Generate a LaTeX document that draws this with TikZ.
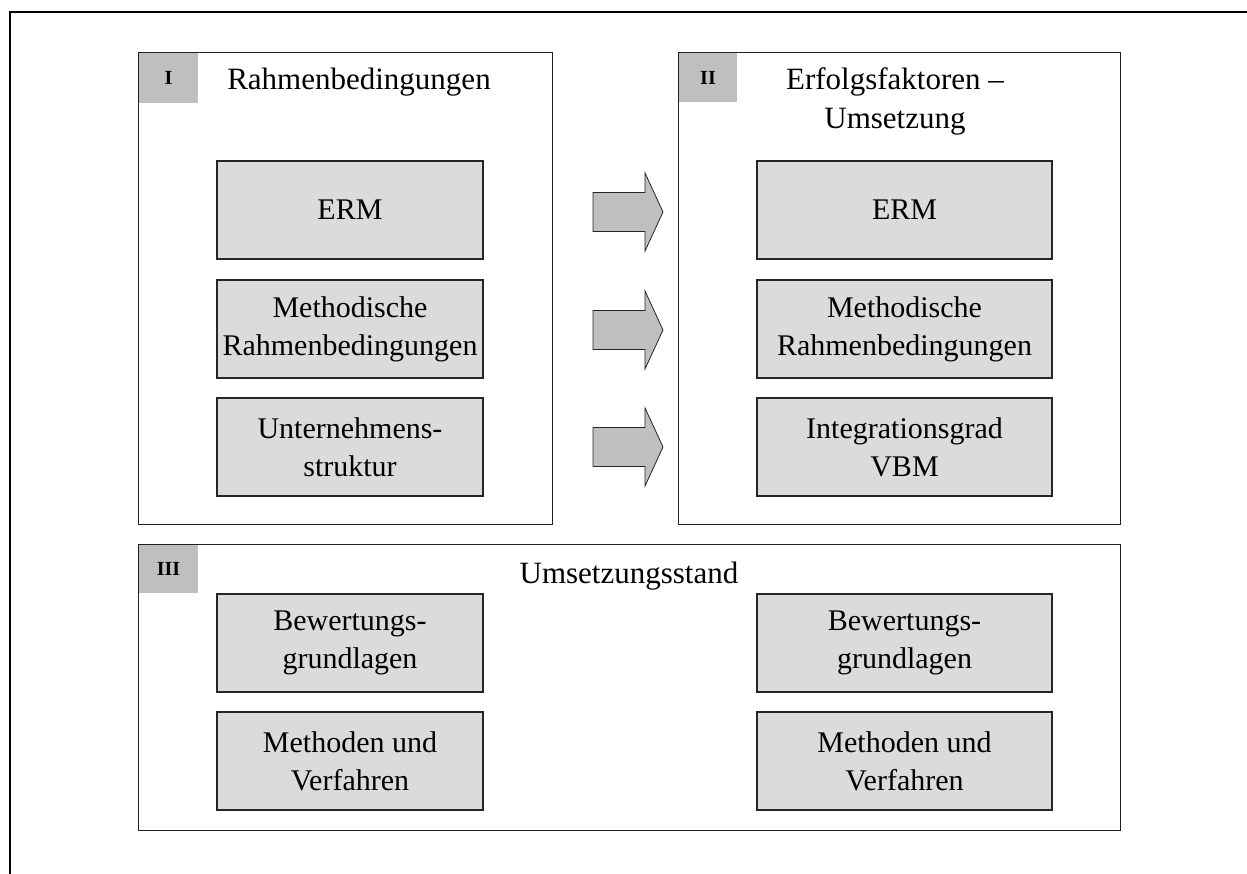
\documentclass[tikz,border=0pt]{standalone}
\usepackage{fontspec}
\setmainfont{Liberation Serif}
\begin{document}
\begin{tikzpicture}[x=1pt,y=-1pt,
  panel/.style={draw=black!88,line width=0.9pt},
  tag/.style={fill=black!25,draw=none},
  tagtext/.style={font=\fontsize{20}{22}\selectfont\bfseries},
  item/.style={draw=black!85,line width=1.2pt,fill=black!14,align=center,
    inner sep=0pt,font=\fontsize{30}{38}\selectfont},
  heading/.style={align=center,font=\fontsize{31}{39}\selectfont,anchor=base},
  blockarrow/.pic={
    \draw[draw=black!85,line width=0.8pt,fill=black!25,line join=miter]
      (-35,-19.5) -- (17,-19.5) -- (17,-39) -- (35,0) -- (17,39) -- (17,19.5)
      -- (-35,19.5) -- cycle;
  }]
\useasboundingbox (0,0) rectangle (1247,874);

% outer frame (left and top edges)
\draw[line width=1.3pt] (10,874) -- (10,12) -- (1247,12);

% section panels
\draw[panel] (138,52) rectangle (552,524);
\draw[panel] (678,52) rectangle (1120,524);
\draw[panel] (138,544) rectangle (1120,830);

% numbered tags
\fill[tag] (139,53) rectangle (198,103);
\node[tagtext] (tagI) at (168.5,78) {I};
\fill[tag] (679,53) rectangle (737,102);
\node[tagtext] (tagII) at (708,77.5) {II};
\fill[tag] (139,545) rectangle (198,593);
\node[tagtext] (tagIII) at (168.5,569) {III};

% headings
\node[heading] (hI) at (359,90) {Rahmenbedingungen};
\node[heading] (hII) at (895,129) {Erfolgsfaktoren –\\Umsetzung};
\node[heading] (hIII) at (629,583) {Umsetzungsstand};

% section I items
\node[item,minimum width=266pt,minimum height=98pt] (ermL) at (350,210) {ERM};
\node[item,minimum width=266pt,minimum height=98pt] (methL) at (350,329) {Methodische\\Rahmenbedingungen};
\node[item,minimum width=266pt,minimum height=98pt] (untL) at (350,447) {Unternehmens-\\struktur};

% section II items
\node[item,minimum width=295pt,minimum height=98pt] (ermR) at (904.5,210) {ERM};
\node[item,minimum width=295pt,minimum height=98pt] (methR) at (904.5,329) {Methodische\\Rahmenbedingungen};
\node[item,minimum width=295pt,minimum height=98pt] (intR) at (904.5,447) {Integrationsgrad\\VBM};

% section III items
\node[item,minimum width=266pt,minimum height=98pt] (bewL) at (350,643) {Bewertungs-\\grundlagen};
\node[item,minimum width=266pt,minimum height=98pt] (mvL) at (350,761) {Methoden und\\Verfahren};
\node[item,minimum width=295pt,minimum height=98pt] (bewR) at (904.5,643) {Bewertungs-\\grundlagen};
\node[item,minimum width=295pt,minimum height=98pt] (mvR) at (904.5,761) {Methoden und\\Verfahren};

% block arrows between the rows
\pic at (628,212) {blockarrow};
\pic at (628,330) {blockarrow};
\pic at (628,447) {blockarrow};
\end{tikzpicture}
\end{document}
